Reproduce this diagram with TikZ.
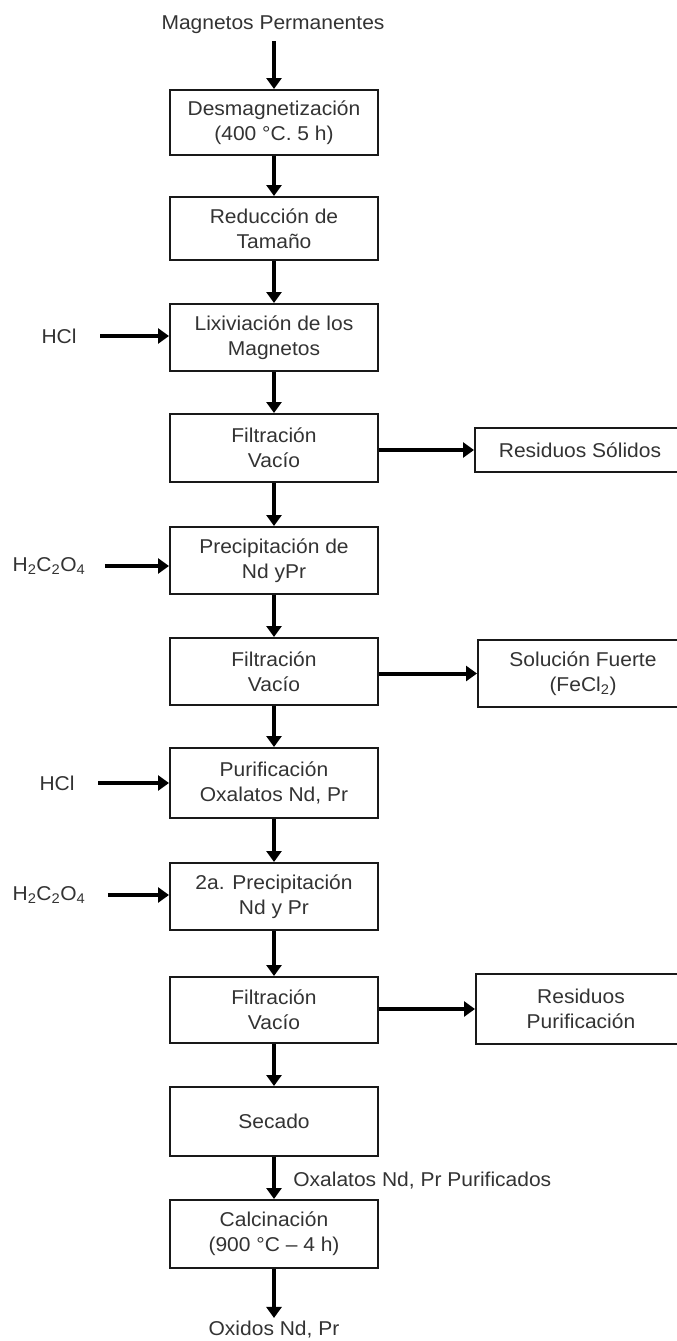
\documentclass[tikz,border=0pt]{standalone}
\usepackage{fontspec}
\setmainfont[FakeStretch=1.05]{Liberation Sans}
\usetikzlibrary{arrows.meta}
\begin{document}
\begin{tikzpicture}[x=1pt,y=-1pt,
  every node/.style={font=\fontsize{20}{25}\selectfont, text=black!80, align=center},
  box/.style={draw=black!90, line width=2pt, minimum width=208pt, minimum height=67pt, inner sep=0pt},
  sidebox/.style={draw=black!90, line width=2pt, minimum width=210pt, inner sep=0pt},
  flow/.style={line width=4pt, draw=black, -{Triangle[width=15pt,length=11pt]}},
]
\fill[white] (0,0) rectangle (677,1341);
\useasboundingbox (0,0) rectangle (677,1341);

% main column
\node (mp) at (273,25) {Magnetos Permanentes};
\node[box, minimum height=65pt] (b1) at (274,122.5) {Desmagnetización\\(400 °C. 5 h)};
\node[box, minimum height=63pt] (b2) at (274,228.5) {Reducción de\\Tamaño};
\node[box] (b3) at (274,337.5) {Lixiviación de los\\Magnetos};
\node[box, minimum height=68pt] (b4) at (274,448) {Filtración\\Vacío};
\node[box] (b5) at (274,560.5) {Precipitación de\\Nd yPr};
\node[box] (b6) at (274,671.5) {Filtración\\Vacío};
\node[box, minimum height=70pt] (b7) at (274,783) {Purificación\\Oxalatos Nd, Pr};
\node[box] (b8) at (274,896.5) {2a. Precipitación\\Nd y Pr};
\node[box, minimum height=66pt] (b9) at (274,1010) {Filtración\\Vacío};
\node[box, minimum height=69pt] (b10) at (274,1121.5) {Secado};
\node[box, minimum height=68pt] (b11) at (274,1234) {Calcinación\\(900 °C – 4 h)};
\node (ox) at (274,1330) {Oxidos Nd, Pr};

% side outputs
\node[sidebox, minimum height=44pt] (s1) at (580,450) {Residuos Sólidos};
\node[sidebox, minimum height=67pt] (s2) at (583,673.5) {Solución Fuerte\\(FeCl\textsubscript{2})};
\node[sidebox, minimum height=70pt] (s3) at (581,1009) {Residuos\\Purificación};

% left inputs
\node (hcl1) at (59,336) {HCl};
\node (ac1) at (49,566) {H\textsubscript{2}C\textsubscript{2}O\textsubscript{4}};
\node (hcl2) at (57,783) {HCl};
\node (ac2) at (49,895) {H\textsubscript{2}C\textsubscript{2}O\textsubscript{4}};

% vertical flow
\draw[flow, shorten <=4pt] (mp.south -| b1.north) -- (b1.north);
\draw[flow] (b1.south) -- (b2.north);
\draw[flow] (b2.south) -- (b3.north);
\draw[flow] (b3.south) -- (b4.north);
\draw[flow] (b4.south) -- (b5.north);
\draw[flow] (b5.south) -- (b6.north);
\draw[flow] (b6.south) -- (b7.north);
\draw[flow] (b7.south) -- (b8.north);
\draw[flow] (b8.south) -- (b9.north);
\draw[flow] (b9.south) -- (b10.north);
\draw[flow] (b10.south) -- node[right=14pt, pos=0.55, align=left] (lab) {Oxalatos Nd, Pr Purificados} (b11.north);
\draw[flow] (b11.south) -- (ox.north);

% side arrows
\draw[flow] (b4.east |- s1.west) -- (s1.west);
\draw[flow] (b6.east |- s2.west) -- (s2.west);
\draw[flow] (b9.east |- s3.west) -- (s3.west);

% input arrows
\draw[flow, shorten <=20pt] (hcl1.east) -- (b3.west |- hcl1.east);
\draw[flow, shorten <=16pt] (ac1.east) -- (b5.west |- ac1.east);
\draw[flow, shorten <=20pt] (hcl2.east) -- (b7.west |- hcl2.east);
\draw[flow, shorten <=19pt] (ac2.east) -- (b8.west |- ac2.east);
\end{tikzpicture}
\end{document}
